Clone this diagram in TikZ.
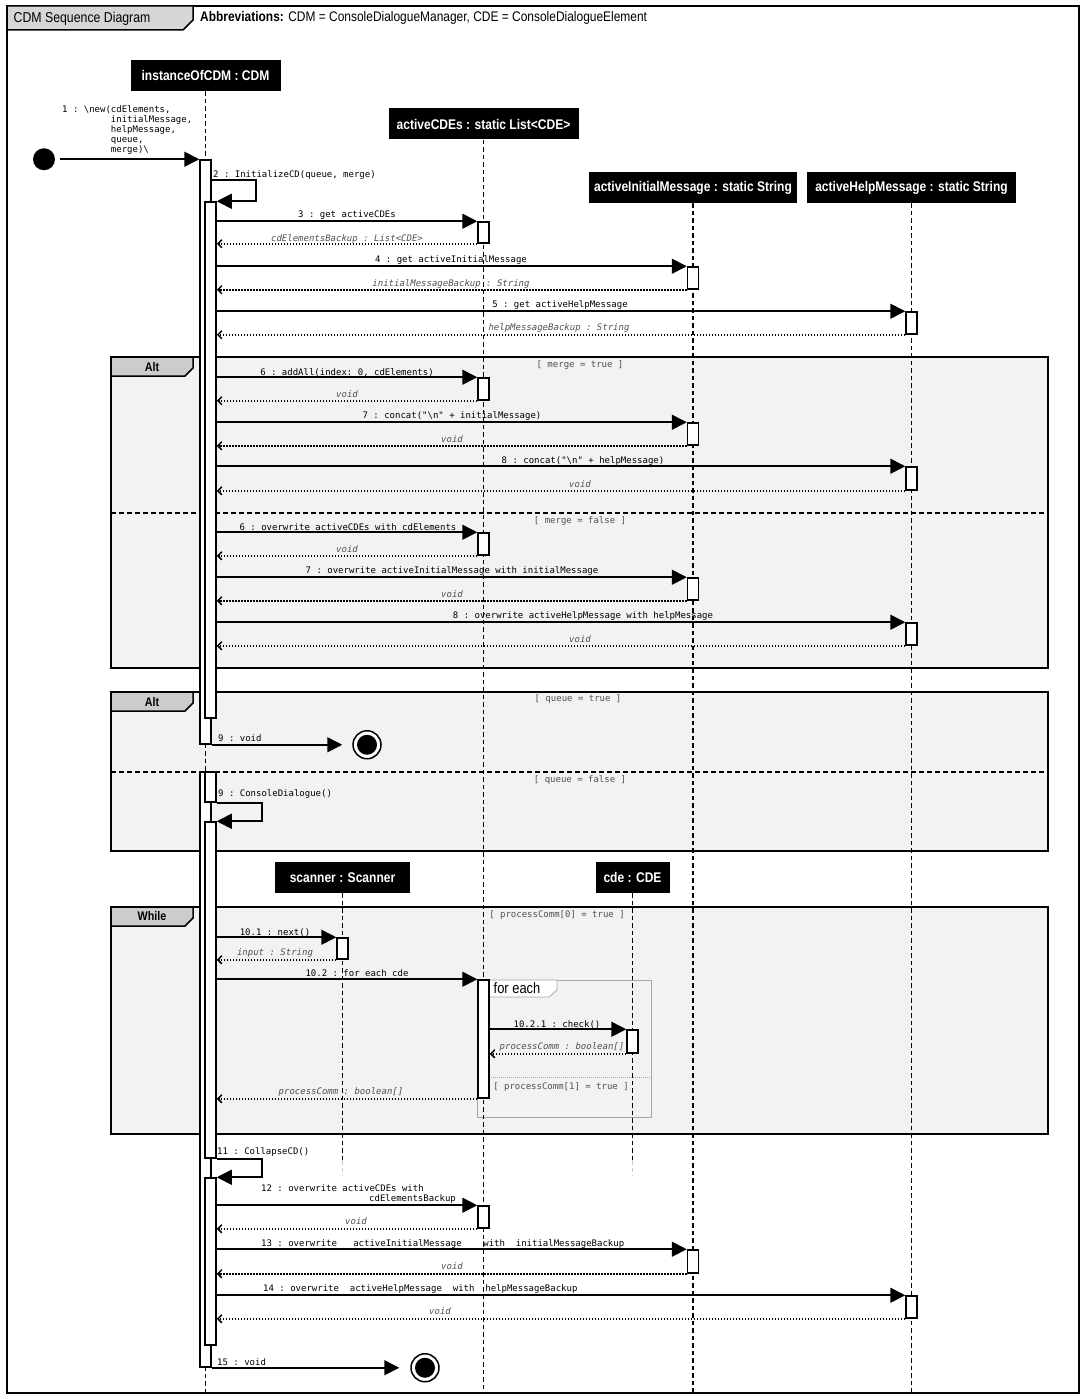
\documentclass[tikz,border=0pt]{standalone}
\usepackage{fontspec}
\setmainfont{Liberation Sans}
\setmonofont{DejaVu Sans Mono}
\newfontfamily\hdfont[FakeStretch=0.86]{Liberation Sans}
\usetikzlibrary{arrows.meta}
\definecolor{fragbg}{HTML}{F2F2F4}
\definecolor{tabbg}{HTML}{CCCCCC}
\definecolor{titlebg}{HTML}{D6D6D6}
\definecolor{guardc}{HTML}{505050}
\definecolor{retc}{HTML}{505050}
\begin{document}
\begin{tikzpicture}[x=1pt,y=-1pt,
  head/.style={fill=black,text=white,font=\hdfont\bfseries\fontsize{14}{16}\selectfont,minimum height=31,inner sep=0},
  lifeline/.style={line width=1.6pt,dash pattern=on 4.5pt off 3pt},
  act/.style={draw,fill=white,line width=1.5pt,minimum width=11,inner sep=0},
  msg/.style={line width=1.6pt,-{Triangle[length=15pt,width=15pt]}},
  ret/.style={line width=1.5pt,dash pattern=on 1.5pt off 1.5pt,-{Straight Barb[length=4pt,width=8pt,line width=1.5pt]}},
  mlab/.style={font=\ttfamily\fontsize{9}{10}\selectfont,inner sep=0,yshift=-1.5pt},
  rlab/.style={font=\ttfamily\itshape\fontsize{9}{10}\selectfont,text=retc,inner sep=0,yshift=-1.5pt},
  glab/.style={font=\ttfamily\fontsize{9}{10}\selectfont,text=guardc,inner sep=0,yshift=-1pt},
  frame/.style={draw,fill=fragbg,line width=1.6pt},
  tab/.style={draw,fill=tabbg,line width=1.5pt},
  tabtext/.style={font=\hdfont\bfseries\fontsize{12.5}{14}\selectfont,inner sep=0},
  sep/.style={line width=1.5pt,dash pattern=on 5pt off 3pt},
  endst/.style={draw,circle,fill=white,line width=1.5pt,minimum size=28,inner sep=0},
]
\useasboundingbox (0,0) rectangle (1085,1399);
\fill[white] (0,0) rectangle (1085,1399);
\coordinate (bot) at (0,1392);

% outer frame
\draw[line width=1.6pt] (7,6) rectangle (1079,1393);
\draw[line width=1.5pt,fill=titlebg] (7,6) -- (193,6) -- (193,20) -- (183,30) -- (7,30) -- cycle;
\node[font=\hdfont\fontsize{14.3}{16}\selectfont,anchor=west,inner sep=0] (title) at (13.5,18.5) {CDM Sequence Diagram};
\node[font=\hdfont\fontsize{13.9}{16}\selectfont,anchor=west,inner sep=0] (abbr) at (200,17.5) {{\bfseries Abbreviations:} CDM = ConsoleDialogueManager, CDE = ConsoleDialogueElement};

% fragments
\draw[frame] (111,357) rectangle (1048,668);
\draw[sep] (111,513) -- (1048,513);
\draw[tab] (111,357) -- (193,357) -- (193,368) -- (185,376) -- (111,376) -- cycle;
\node[tabtext] (alt1) at (152,367) {Alt};

\draw[frame] (111,692) rectangle (1048,851);
\draw[sep] (111,772) -- (1048,772);
\draw[tab] (111,692) -- (193,692) -- (193,703) -- (185,711) -- (111,711) -- cycle;
\node[tabtext] (alt2) at (152,702) {Alt};

\draw[frame] (111,907) rectangle (1048,1134);
\draw[tab] (111,907) -- (193,907) -- (193,918) -- (185,926) -- (111,926) -- cycle;
\node[tabtext] (while) at (152,916.5) {While};

\draw[draw=gray!70,line width=0.8pt,fill=fragbg] (477,980) rectangle (651,1117);
\draw[draw=gray!70,line width=0.8pt,fill=white] (489,980) -- (557,980) -- (557,990) -- (549,997) -- (489,997) -- cycle;
\node[font=\hdfont\fontsize{15}{17}\selectfont,anchor=west,inner sep=0] (fet) at (493.5,988.5) {for each};
\draw[gray!70,line width=0.8pt,dash pattern=on 1pt off 1pt] (489,1077) -- (651,1077);

% heads
\node[head,minimum width=150] (cdm) at (205.5,75.5) {instanceOfCDM : CDM};
\node[head,minimum width=190] (acd) at (483.5,124) {activeCDEs : static List<CDE>};
\node[head,minimum width=208] (aim) at (693,187.5) {activeInitialMessage : static String};
\node[head,minimum width=209] (ahm) at (911.5,187.5) {activeHelpMessage : static String};
\node[head,minimum width=135] (scn) at (342.5,877.5) {scanner : Scanner};
\node[head,minimum width=74] (cde) at (632.5,877.5) {cde : CDE};

% lifelines
\draw[lifeline] (cdm.south) -- (cdm.south |- bot);
\draw[lifeline] (acd.south) -- (acd.south |- bot);
\draw[lifeline] (aim.south) -- (aim.south |- bot);
\draw[lifeline] (ahm.south) -- (ahm.south |- bot);
\coordinate (fadeA) at (0,1160);
\coordinate (fadeB) at (0,1176);
\draw[lifeline] (scn.south) -- (scn.south |- fadeA);
\draw[lifeline,gray!45] (scn.south |- fadeA) -- (scn.south |- fadeB);
\draw[lifeline] (cde.south) -- (cde.south |- fadeA);
\draw[lifeline,gray!45] (cde.south |- fadeA) -- (cde.south |- fadeB);

% activations on CDM
\node[act,minimum height=584] (A1) at (205.5,452) {};
\node[act,minimum height=516] (A2) at (210.5,460) {};
\node[act,minimum height=595] (A3) at (205.5,1069.5) {};
\node[act,minimum height=30] (B) at (210.5,787) {};
\node[act,minimum height=336] (C) at (210.5,990) {};
\node[act,minimum height=167] (D) at (210.5,1261.5) {};

% target activations
\node[act,minimum height=21] (r3) at (483.5,232.5) {};
\node[act,minimum height=22] (r4) at (693,278) {};
\node[act,minimum height=22] (r5) at (911.5,323) {};
\node[act,minimum height=22] (r6) at (483.5,389) {};
\node[act,minimum height=22] (r7) at (693,434) {};
\node[act,minimum height=23] (r8) at (911.5,478.5) {};
\node[act,minimum height=22] (r6b) at (483.5,544) {};
\node[act,minimum height=22] (r7b) at (693,589) {};
\node[act,minimum height=22] (r8b) at (911.5,634) {};
\node[act,minimum height=21] (s1) at (342.5,948.5) {};
\node[act,minimum height=118] (fe) at (483.5,1039) {};
\node[act,minimum height=23] (c1) at (632.5,1041.5) {};
\node[act,minimum height=22] (r12) at (483.5,1217) {};
\node[act,minimum height=23] (r13) at (693,1261.5) {};
\node[act,minimum height=22] (r14) at (911.5,1307) {};

% initial
\node[circle,fill=black,minimum size=22,inner sep=0] (init) at (44,159.25) {};
\draw[msg,shorten <=5pt] (init.east) -- (A1.north west);
\node[mlab,anchor=north west,align=left] (l1) at (62,104) {1 : \textbackslash new(cdElements,\\\phantom{1 : \textbackslash new(}initialMessage,\\\phantom{1 : \textbackslash new(}helpMessage,\\\phantom{1 : \textbackslash new(}queue,\\\phantom{1 : \textbackslash new(}merge)\textbackslash};

% self call 2
\coordinate (s2) at (256,180);
\draw[msg] (A1.east |- s2) -- (s2) |- (A2.north east);
\node[mlab,anchor=west] (l2) at (213,174) {2 : InitializeCD(queue, merge)};

% 3-5
\draw[msg] (A2.east |- r3.north) -- (r3.north west);
\draw[ret] (r3.south west) -- (A2.east |- r3.south);
\node[mlab] (l3) at (347,214) {3 : get activeCDEs};
\node[rlab] (rl3) at (347,237) {cdElementsBackup : List<CDE>};

\draw[msg] (A2.east |- r4.north) -- (r4.north west);
\draw[ret] (r4.south west) -- (A2.east |- r4.south);
\node[mlab] (l4) at (451,259) {4 : get activeInitialMessage};
\node[rlab] (rl4) at (451,283) {initialMessageBackup : String};

\draw[msg] (A2.east |- r5.north) -- (r5.north west);
\draw[ret] (r5.south west) -- (A2.east |- r5.south);
\node[mlab] (l5) at (560,304) {5 : get activeHelpMessage};
\node[rlab] (rl5) at (559,327) {helpMessageBackup : String};

% alt merge
\node[glab] (g1) at (580,364) {[ merge = true ]};
\draw[msg] (A2.east |- r6.north) -- (r6.north west);
\draw[ret] (r6.south west) -- (A2.east |- r6.south);
\node[mlab] (l6) at (347,371) {6 : addAll(index: 0, cdElements)};
\node[rlab] (rl6) at (347,393) {void};

\draw[msg] (A2.east |- r7.north) -- (r7.north west);
\draw[ret] (r7.south west) -- (A2.east |- r7.south);
\node[mlab] (l7) at (452,415) {7 : concat("\textbackslash n" + initialMessage)};
\node[rlab] (rl7) at (452,438) {void};

\draw[msg] (A2.east |- r8.north) -- (r8.north west);
\draw[ret] (r8.south west) -- (A2.east |- r8.south);
\node[mlab] (l8) at (583,460) {8 : concat("\textbackslash n" + helpMessage)};
\node[rlab] (rl8) at (580,483) {void};

\node[glab] (g2) at (580,520) {[ merge = false ]};
\draw[msg] (A2.east |- r6b.north) -- (r6b.north west);
\draw[ret] (r6b.south west) -- (A2.east |- r6b.south);
\node[mlab] (l6b) at (348,526) {6 : overwrite activeCDEs with cdElements};
\node[rlab] (rl6b) at (347,548) {void};

\draw[msg] (A2.east |- r7b.north) -- (r7b.north west);
\draw[ret] (r7b.south west) -- (A2.east |- r7b.south);
\node[mlab] (l7b) at (452,570) {7 : overwrite activeInitialMessage with initialMessage};
\node[rlab] (rl7b) at (452,593) {void};

\draw[msg] (A2.east |- r8b.north) -- (r8b.north west);
\draw[ret] (r8b.south west) -- (A2.east |- r8b.south);
\node[mlab] (l8b) at (583,615) {8 : overwrite activeHelpMessage with helpMessage};
\node[rlab] (rl8b) at (580,638) {void};

% alt queue
\node[glab] (g3) at (578,698) {[ queue = true ]};
\node[endst] (end1) at (367,744.75) {};
\fill (end1.center) circle (10pt);
\draw[msg,shorten >=10pt] (A1.south east) -- (end1.west);
\node[mlab,anchor=west] (l9) at (218,737) {9 : void};

\node[glab] (g4) at (580,779) {[ queue = false ]};
\draw[msg] (B.south east) -- ++(45,0) |- (C.north east);
\node[mlab,anchor=west] (l9b) at (218,793) {9 : ConsoleDialogue()};

% while
\node[glab] (g5) at (557,914) {[ processComm[0] = true ]};
\draw[msg] (C.east |- s1.north) -- (s1.north west);
\draw[ret] (s1.south west) -- (C.east |- s1.south);
\node[mlab] (l101) at (275,931) {10.1 : next()};
\node[rlab] (rl101) at (275,952) {input : String};

\draw[msg] (C.east |- fe.north) -- (fe.north west);
\node[mlab] (l102) at (357,972) {10.2 : for each cde};

\draw[msg] (fe.east |- c1.north) -- (c1.north west);
\draw[ret] (c1.south west) -- (fe.east |- c1.south);
\node[mlab] (l1021) at (557,1023) {10.2.1 : check()};
\node[rlab] (rl1021) at (562,1045) {processComm : boolean[]};
\node[glab] (g6) at (561,1086) {[ processComm[1] = true ]};

\draw[ret] (fe.south west) -- (C.east |- fe.south);
\node[rlab] (rl102) at (341,1090) {processComm : boolean[]};

% collapse
\draw[msg] (C.south east) -- ++(45,0) |- (D.north east);
\node[mlab,anchor=west] (l11) at (217,1150) {11 : CollapseCD()};

\draw[msg] (D.east |- r12.north) -- (r12.north west);
\draw[ret] (r12.south west) -- (D.east |- r12.south);
\node[mlab,anchor=west,align=left] (l12) at (261,1193) {12 : overwrite activeCDEs with\\\hspace*{108pt}cdElementsBackup};
\node[rlab] (rl12) at (356,1220) {void};

\draw[msg] (D.east |- r13.north) -- (r13.north west);
\draw[ret] (r13.south west) -- (D.east |- r13.south);
\node[mlab,anchor=west] (l13) at (261,1243) {13 : overwrite\ \ \ activeInitialMessage\ \ \ \ with\ \ initialMessageBackup};
\node[rlab] (rl13) at (452,1265) {void};

\draw[msg] (D.east |- r14.north) -- (r14.north west);
\draw[ret] (r14.south west) -- (D.east |- r14.south);
\node[mlab,anchor=west] (l14) at (263,1288) {14 : overwrite\ \ activeHelpMessage\ \ with\ \ helpMessageBackup};
\node[rlab] (rl14) at (440,1310) {void};

\node[endst] (end2) at (425,1367.75) {};
\fill (end2.center) circle (10pt);
\draw[msg,shorten >=11pt] (A3.south east) -- (end2.west);
\node[mlab,anchor=west] (l15) at (217,1361) {15 : void};
\end{tikzpicture}
\end{document}
